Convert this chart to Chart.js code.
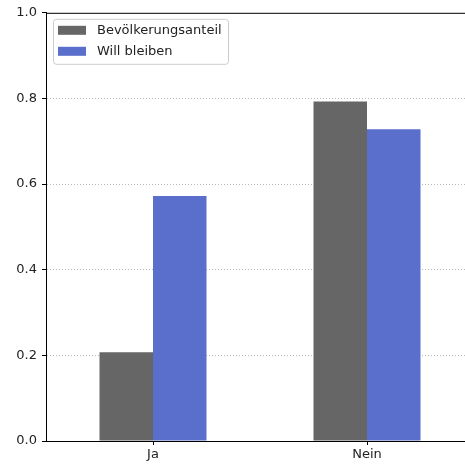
<!DOCTYPE html>
<html>
<head>
<meta charset="utf-8">
<script src="https://cdn.jsdelivr.net/npm/chart.js@4"></script>
<style>
  html, body { margin: 0; padding: 0; background: #fff; overflow: hidden; }
  #wrap { width: 480px; height: 465px; }
</style>
</head>
<body>
<div id="wrap"><canvas id="myChart" width="480" height="465"></canvas></div>
<script>
const categories = ["Ja", "Nein"];
const seriesNames = ["Bevölkerungsanteil", "Will bleiben"];
const bevoelkerung = [0.207, 0.793];
const willBleiben = [0.572, 0.728];
const yTicks = [0.0, 0.2, 0.4, 0.6, 0.8, 1.0];

const grayColor = "#666666";
const blueColor = "#5a6ecc";
const textColor = "#222222";
const fontSpec = { family: "DejaVu Sans", size: 13 };

// Legend inside the plot area, like matplotlib's upper-left legend
const insideLegend = {
  id: "insideLegend",
  afterDraw(chart) {
    const ctx = chart.ctx;
    const area = chart.chartArea;
    const x = area.left + 7, y = area.top + 6, w = 175, h = 45;
    ctx.save();
    ctx.fillStyle = "rgba(255,255,255,0.8)";
    ctx.strokeStyle = "#cccccc";
    ctx.lineWidth = 1;
    ctx.beginPath();
    ctx.roundRect(x + 0.5, y + 0.5, w, h, 3);
    ctx.fill();
    ctx.stroke();
    ctx.font = "13px 'DejaVu Sans'";
    ctx.textBaseline = "middle";
    chart.data.datasets.forEach((ds, i) => {
      const rowY = y + 11 + i * 21;
      ctx.fillStyle = ds.backgroundColor;
      ctx.fillRect(x + 5, rowY - 4, 28, 9);
      ctx.fillStyle = textColor;
      ctx.fillText(ds.label, x + 44, rowY + 1);
    });
    // top spine
    ctx.strokeStyle = "#000";
    ctx.beginPath();
    ctx.moveTo(area.left, area.top + 0.5);
    ctx.lineTo(area.right, area.top + 0.5);
    ctx.stroke();
    ctx.restore();
  },
};

const ctx = document.getElementById("myChart");

new Chart(ctx, {
  type: "bar",
  data: {
    labels: categories,
    datasets: [
      { label: seriesNames[0], data: bevoelkerung, backgroundColor: grayColor },
      { label: seriesNames[1], data: willBleiben, backgroundColor: blueColor },
    ],
  },
  options: {
    responsive: false,
    animation: false,
    layout: { padding: { top: 11, right: 6, left: 0, bottom: 0 } },
    datasets: {
      bar: { categoryPercentage: 0.5, barPercentage: 1.0 },
    },
    plugins: {
      legend: { display: false },
      tooltip: { enabled: false },
    },
    scales: {
      x: {
        grid: {
          offset: false,
          drawOnChartArea: false,
          drawTicks: true,
          tickLength: 4,
          tickColor: "#000",
        },
        border: { color: "#000", width: 1 },
        ticks: { color: textColor, font: fontSpec, padding: 2 },
        afterFit(scale) { scale.height = 24; },
      },
      y: {
        min: 0,
        max: 1.0,
        afterBuildTicks(scale) {
          scale.ticks = yTicks.map((v) => ({ value: v }));
        },
        ticks: {
          color: textColor,
          font: fontSpec,
          padding: 5,
          callback: (v) => v.toFixed(1),
        },
        grid: {
          color: (c) =>
            c.tick && (c.tick.value === 0 || c.tick.value === 1) ? "rgba(0,0,0,0)" : "#b8b8b8",
          tickColor: "#000",
          tickLength: 4,
          lineWidth: 1,
        },
        border: { color: "#000", width: 1, dash: [1, 2] },
        afterFit(scale) { scale.width = 46; },
      },
    },
  },
  plugins: [insideLegend],
});
</script>
</body>
</html>
